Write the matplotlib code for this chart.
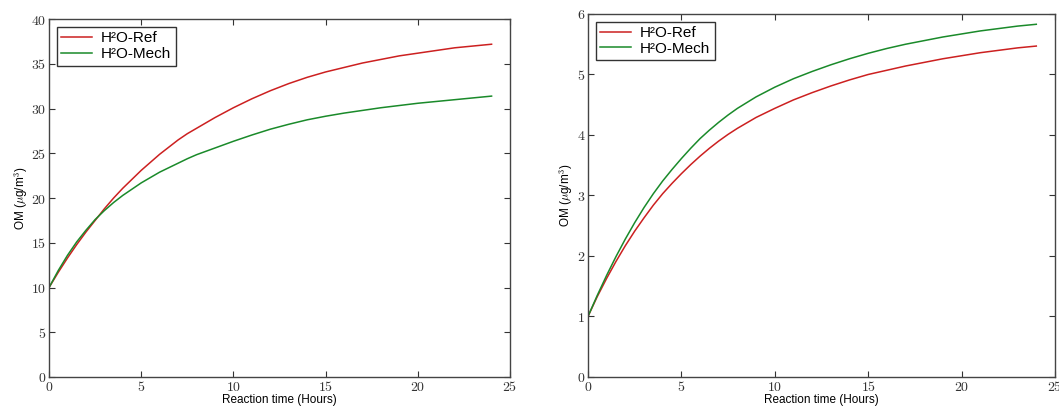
import matplotlib
matplotlib.use("Agg")
import matplotlib.pyplot as plt
from matplotlib.ticker import FuncFormatter
import numpy as np

plt.rcParams["mathtext.fontset"] = "cm"
plt.rcParams["font.family"] = ["Liberation Sans", "DejaVu Sans"]

hours = [0, 0.5, 1, 1.5, 2, 2.5, 3, 3.5, 4, 4.5, 5, 5.5, 6, 6.5, 7, 7.5, 8,
         9, 10, 11, 12, 13, 14, 15, 16, 17, 18, 19, 20, 21, 22, 23, 24]

# left panel
left_ref = [10.0, 11.7, 13.3, 14.8, 16.2, 17.5, 18.8, 20.0, 21.1, 22.1, 23.1, 24.0, 24.9,
            25.7, 26.5, 27.2, 27.8,
            29.0, 30.1, 31.1, 32.0, 32.8, 33.5, 34.1, 34.6, 35.1, 35.5, 35.9, 36.2, 36.5,
            36.8, 37.0, 37.2]
left_mech = [10.0, 11.9, 13.6, 15.1, 16.4, 17.6, 18.6, 19.5, 20.3, 21.0, 21.7, 22.3, 22.9,
             23.4, 23.9, 24.4, 24.85,
             25.6, 26.35, 27.05, 27.7, 28.25, 28.75, 29.15, 29.5, 29.8, 30.1, 30.35, 30.6,
             30.8, 31.0, 31.2, 31.4]

# right panel
right_ref = [1.0, 1.33, 1.63, 1.91, 2.17, 2.41, 2.63, 2.84, 3.03, 3.2, 3.36, 3.51, 3.65,
             3.78, 3.9, 4.01, 4.11,
             4.29, 4.44, 4.58, 4.7, 4.81, 4.91, 5.0, 5.07, 5.14, 5.2, 5.26, 5.31, 5.36,
             5.4, 5.44, 5.47]
right_mech = [1.0, 1.35, 1.68, 1.99, 2.28, 2.55, 2.8, 3.03, 3.24, 3.43, 3.61, 3.78, 3.94,
              4.08, 4.21, 4.33, 4.44,
              4.63, 4.79, 4.93, 5.05, 5.16, 5.26, 5.35, 5.43, 5.5, 5.56, 5.62, 5.67, 5.72,
              5.76, 5.8, 5.83]

labels = ["H\u00b2O-Ref", "H\u00b2O-Mech"]

red = "#cc2020"
green = "#1a8a2a"

fig = plt.figure(figsize=(10.59, 4.08), dpi=100)
ax1 = fig.add_axes([0.0463, 0.076, 0.4353, 0.877])
ax2 = fig.add_axes([0.5552, 0.076, 0.441, 0.8897])

mathfmt = FuncFormatter(lambda v, p: r"$%g$" % v)

def style(ax, ymax, ystep):
  ax.set_xlim(0, 25)
  ax.set_ylim(0, ymax)
  ax.set_xticks(np.arange(0, 26, 5))
  ax.set_yticks(np.arange(0, ymax + ystep / 2, ystep))
  ax.xaxis.set_major_formatter(mathfmt)
  ax.yaxis.set_major_formatter(mathfmt)
  ax.tick_params(direction="in", top=True, right=True, length=4, width=0.8,
                 labelsize=10, colors="#333333", pad=2)
  for s in ax.spines.values():
    s.set_color("#444444")
    s.set_linewidth(1.0)
  ax.set_xlabel("Reaction time (Hours)", fontsize=8.5, labelpad=0)
  ax.set_ylabel("OM ($\\mu$g/m$^3$)", fontsize=8.5, labelpad=1)

ax1.plot(hours, left_ref, color=red, lw=1.1, label=labels[0])
ax1.plot(hours, left_mech, color=green, lw=1.1, label=labels[1])
style(ax1, 40, 5)

ax2.plot(hours, right_ref, color=red, lw=1.1, label=labels[0])
ax2.plot(hours, right_mech, color=green, lw=1.1, label=labels[1])
style(ax2, 6, 1)

for ax in (ax1, ax2):
  leg = ax.legend(loc="upper left", fontsize=11, fancybox=False, framealpha=1,
                  edgecolor="#333333", borderpad=0.3, labelspacing=0.1,
                  handlelength=2.0, handletextpad=0.6, borderaxespad=0.5)
  leg.get_frame().set_linewidth(1.0)

plt.savefig("out.png", dpi=100)
